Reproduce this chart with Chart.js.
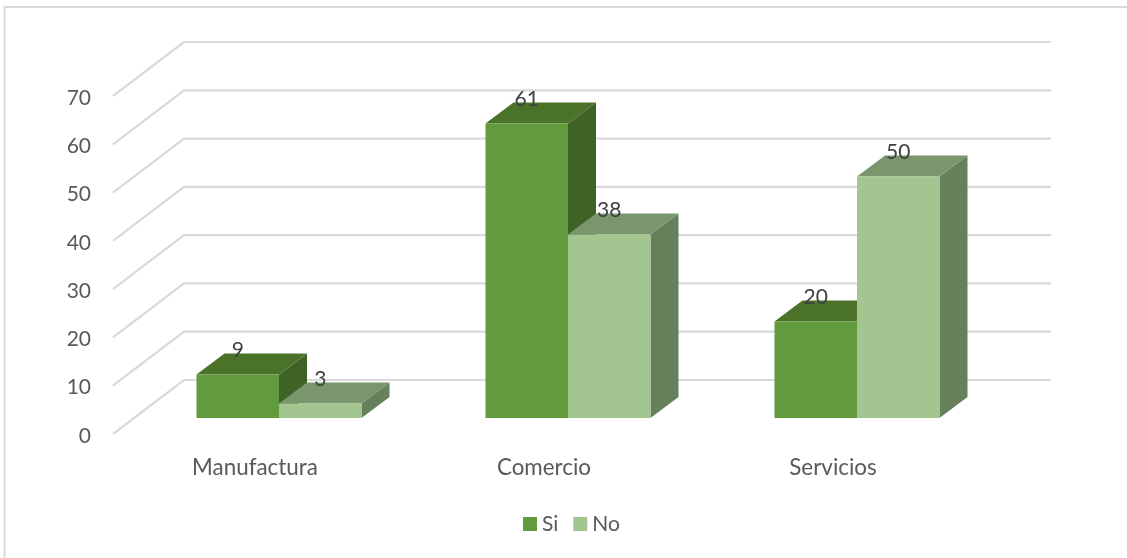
<!DOCTYPE html>
<html>
<head>
<meta charset="utf-8">
<style>
  html, body { margin: 0; padding: 0; background: #fff; overflow: hidden; }
  canvas { display: block; }
</style>
<script src="https://cdn.jsdelivr.net/npm/chart.js@4"></script>
</head>
<body>
<canvas id="barChart" width="1127" height="558"></canvas>
<script>
const categories = ["Manufactura", "Comercio", "Servicios"];
const seriesNames = ["Si", "No"];
const siValues = [9, 61, 20];
const noValues = [3, 38, 50];
const yTicks = [0, 10, 20, 30, 40, 50, 60, 70];

const frontColors = ["#629b3e", "#a3c58f"];
const topColors = ["#4a7229", "#7a966d"];
const sideColors = ["#3f6327", "#65805b"];

const fontName = "Lato, Carlito, sans-serif";
const wall = { dx: 71, dy: 54 };      // left wall depth
const shift = { dx: 21.5, dy: 16 };   // bars stand a bit inside the floor
const box = { dx: 28, dy: 21 };       // depth of one bar

const fake3d = {
  id: "fake3d",
  beforeDraw(chart) {
    const ctx = chart.ctx;
    // frame around the chart, cut off at right and bottom
    ctx.save();
    ctx.strokeStyle = "#d9d9d9";
    ctx.lineWidth = 2;
    ctx.beginPath();
    ctx.moveTo(4.5, 558);
    ctx.lineTo(4.5, 7);
    ctx.lineTo(1127, 7);
    ctx.stroke();
    ctx.restore();
  },
  beforeDatasetsDraw(chart) {
    const ctx = chart.ctx;
    const a = chart.chartArea;
    const y = chart.scales.y;
    ctx.save();
    ctx.strokeStyle = "#d9d9d9";
    ctx.lineWidth = 2.2;
    yTicks.forEach(t => {
      const py = y.getPixelForValue(t);
      ctx.beginPath();
      ctx.moveTo(a.left, py);
      ctx.lineTo(a.left + wall.dx, py - wall.dy);
      ctx.lineTo(a.right + wall.dx, py - wall.dy);
      ctx.stroke();
    });
    ctx.restore();

    // top and side faces, the front comes from the bar element
    ctx.save();
    ctx.translate(shift.dx, -shift.dy);
    chart.data.datasets.forEach((ds, d) => {
      chart.getDatasetMeta(d).data.forEach(bar => {
        const l = bar.x - bar.width / 2;
        const r = bar.x + bar.width / 2;
        ctx.fillStyle = sideColors[d];
        ctx.beginPath();
        ctx.moveTo(r, bar.y);
        ctx.lineTo(r + box.dx, bar.y - box.dy);
        ctx.lineTo(r + box.dx, bar.base - box.dy);
        ctx.lineTo(r, bar.base);
        ctx.fill();
        ctx.fillStyle = topColors[d];
        ctx.beginPath();
        ctx.moveTo(l, bar.y);
        ctx.lineTo(l + box.dx, bar.y - box.dy);
        ctx.lineTo(r + box.dx, bar.y - box.dy);
        ctx.lineTo(r, bar.y);
        ctx.fill();
      });
    });
    // left on for the bar fronts, undone in afterDatasetsDraw
  },
  afterDatasetsDraw(chart) {
    const ctx = chart.ctx;
    ctx.restore();

    // value labels
    ctx.save();
    ctx.font = "21px " + fontName;
    ctx.fillStyle = "#404040";
    ctx.textAlign = "center";
    ctx.textBaseline = "middle";
    chart.data.datasets.forEach((ds, d) => {
      chart.getDatasetMeta(d).data.forEach((bar, i) => {
        ctx.fillText(ds.data[i], bar.x + shift.dx, bar.y - shift.dy - 24);
      });
    });

    // legend
    ctx.font = "21px " + fontName;
    ctx.textAlign = "left";
    let x = 523;
    chart.data.datasets.forEach((ds, d) => {
      ctx.fillStyle = frontColors[d];
      ctx.fillRect(x, 517, 14, 14);
      ctx.fillStyle = "#595959";
      ctx.fillText(ds.label, x + 19, 524);
      x += 19 + ctx.measureText(ds.label).width + 15;
    });
    ctx.restore();
  }
};

new Chart(document.getElementById("barChart"), {
  type: "bar",
  data: {
    labels: categories,
    datasets: [
      { label: seriesNames[0], data: siValues, backgroundColor: frontColors[0] },
      { label: seriesNames[1], data: noValues, backgroundColor: frontColors[1] }
    ]
  },
  options: {
    responsive: false,
    animation: false,
    layout: { padding: { left: 53, right: 147, top: 96, bottom: 64 } },
    datasets: { bar: { categoryPercentage: 0.571, barPercentage: 1 } },
    plugins: {
      legend: { display: false },
      tooltip: { enabled: false }
    },
    scales: {
      x: {
        grid: { display: false },
        border: { display: false },
        afterFit(s) { s.height = 60; },
        ticks: {
          color: "#595959",
          font: { family: fontName, size: 22.4 },
          labelOffset: -2.5,
          padding: 12.5,
          maxRotation: 0
        }
      },
      y: {
        min: 0,
        max: 70,
        grid: { display: false },
        border: { display: false },
        afterFit(s) { s.width = 60; },
        ticks: {
          stepSize: 10,
          color: "#595959",
          font: { family: fontName, size: 21 },
          labelOffset: 2,
          padding: 14
        }
      }
    }
  },
  plugins: [fake3d]
});
</script>
</body>
</html>
